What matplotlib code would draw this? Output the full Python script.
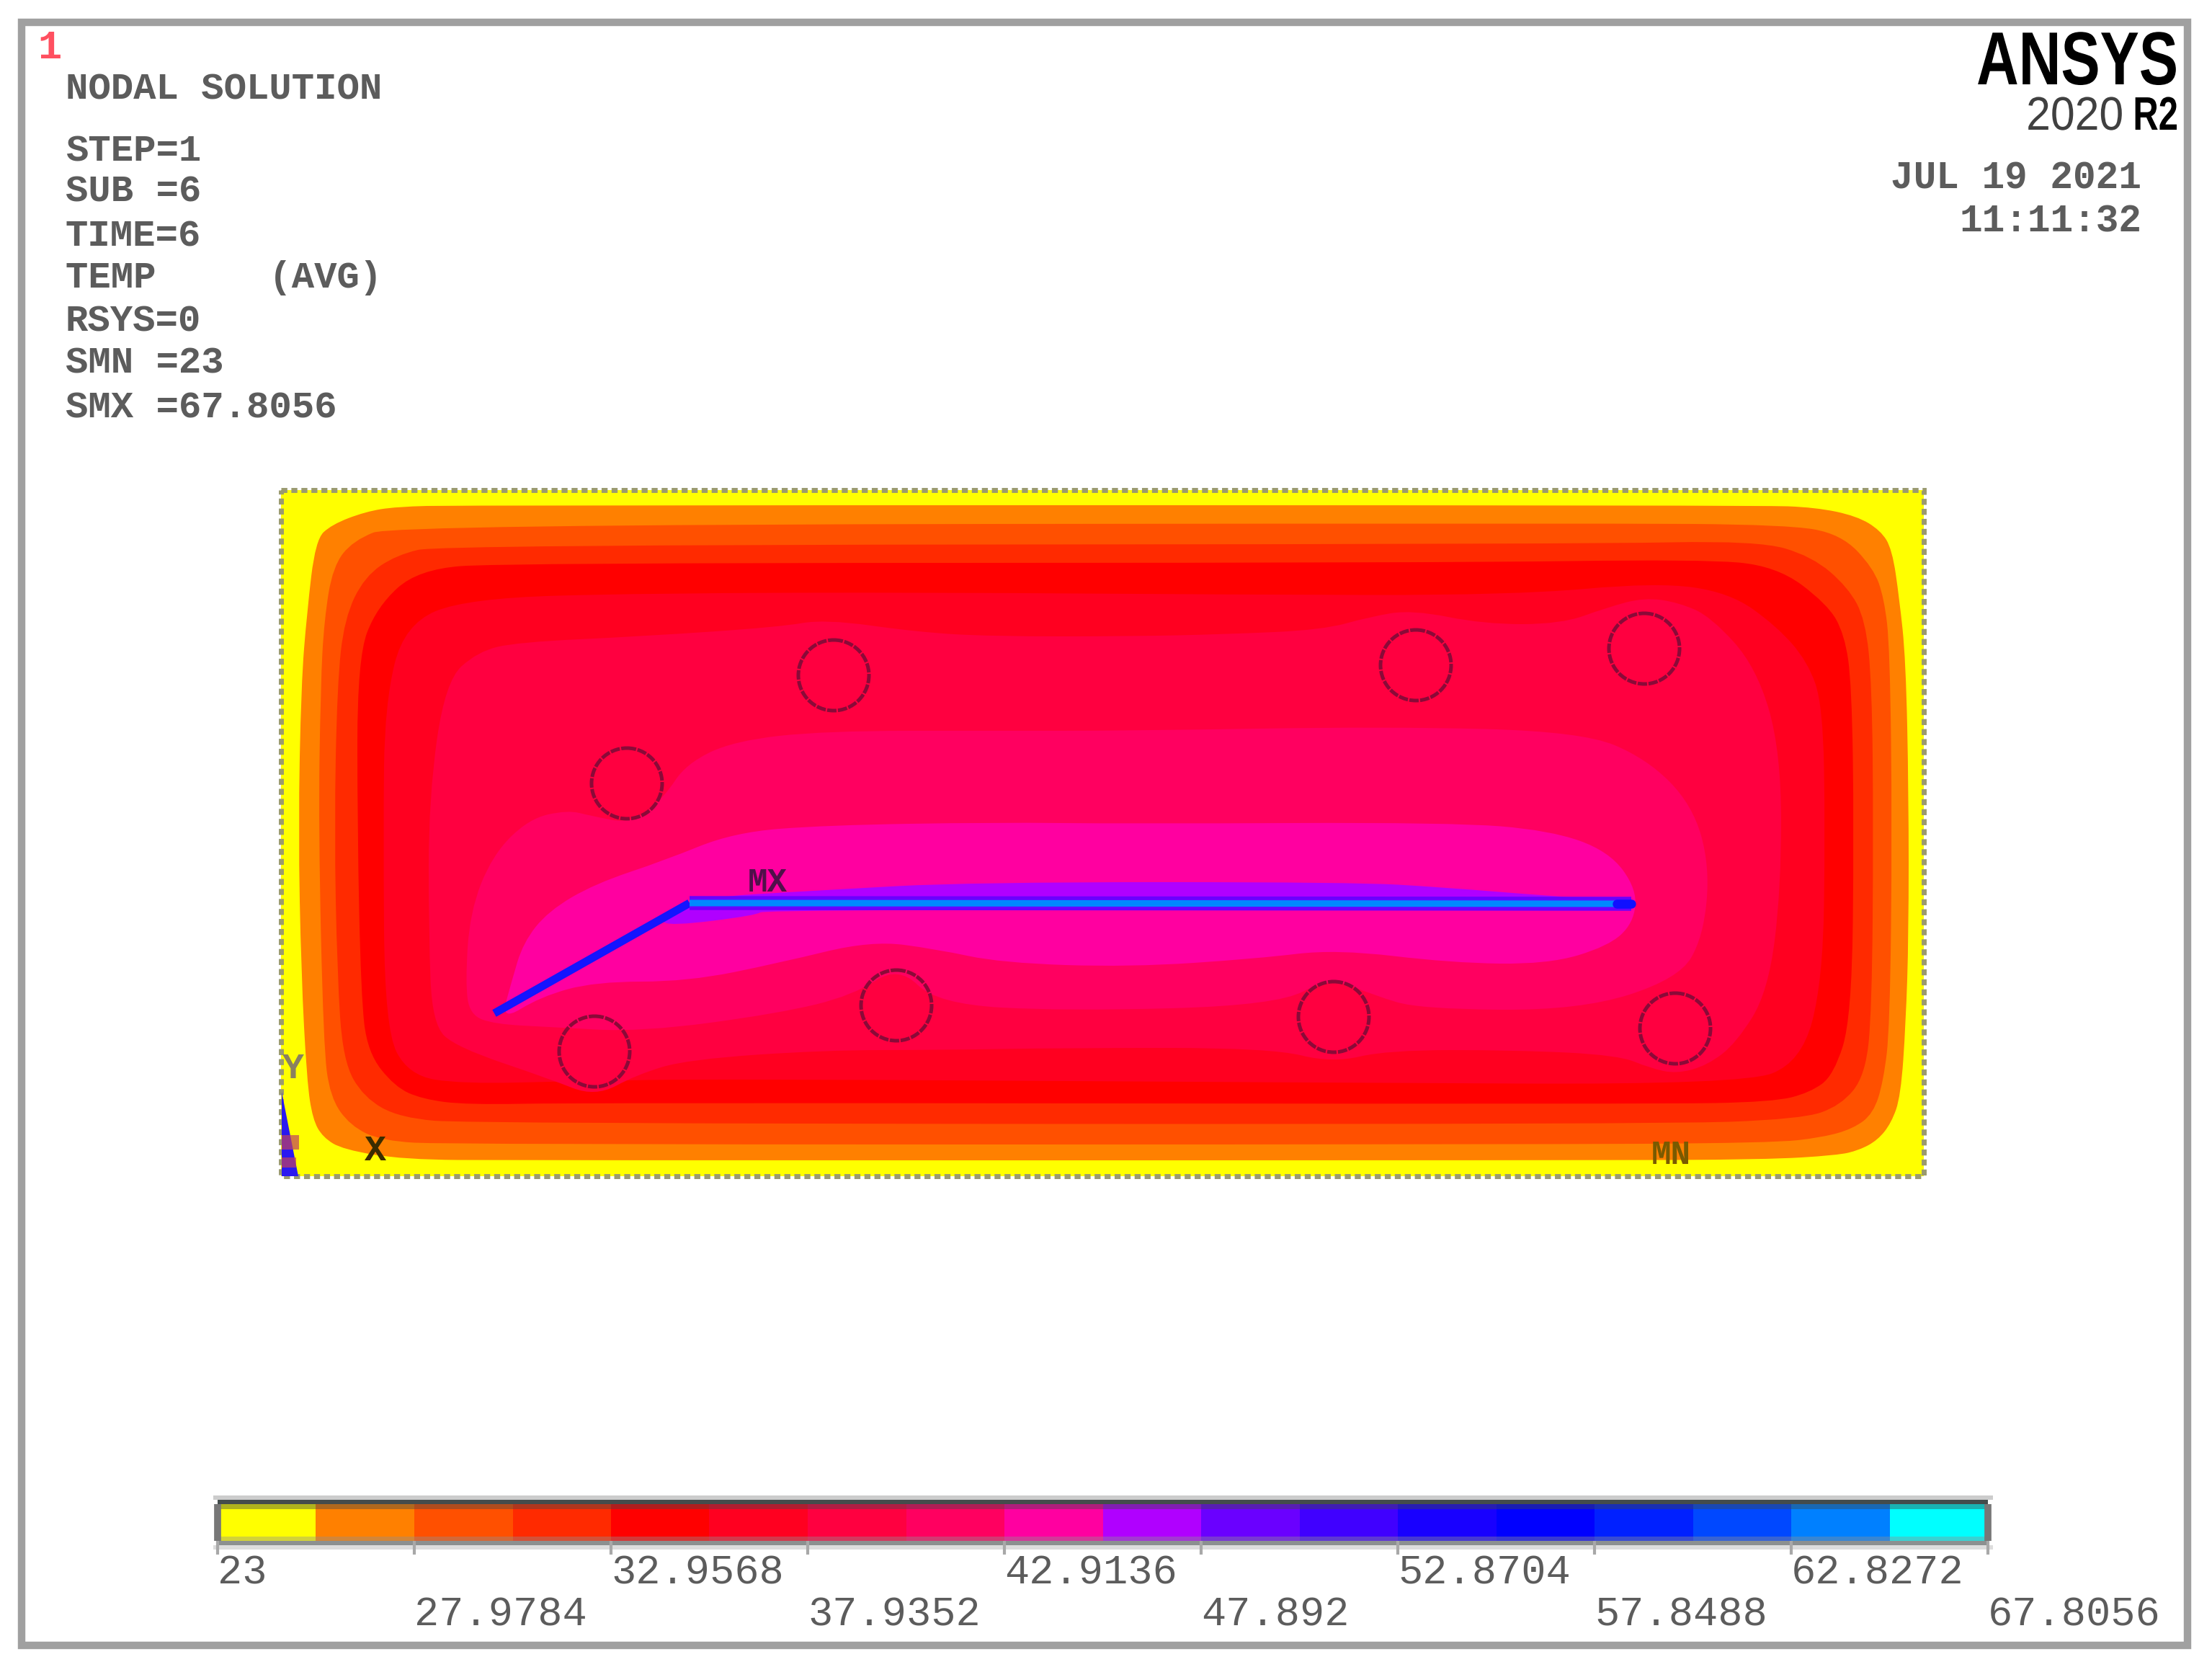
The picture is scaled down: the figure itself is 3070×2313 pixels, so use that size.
import matplotlib
matplotlib.use('Agg')
import numpy as np
import matplotlib.pyplot as plt
import matplotlib.patheffects as pe
from matplotlib.patches import PathPatch, Rectangle, Circle, Polygon
from matplotlib.path import Path
from matplotlib.transforms import Affine2D

# legend of the nodal solution
level_edges = [23, 25.4892, 27.9784, 30.4676, 32.9568, 35.446, 37.9352, 40.4244, 42.9136, 45.4028,
               47.892, 50.3812, 52.8704, 55.3596, 57.8488, 60.338, 62.8272, 65.3164, 67.8056]
band_colors = ['#ffff00', '#ff8000', '#ff5000', '#ff2a00', '#ff0000', '#ff0020', '#ff0040', '#ff0060', '#ff00a0',
               '#b000ff', '#6a00ff', '#4000ff', '#1800ff', '#0000ff', '#0020ff', '#0048ff', '#0080ff', '#00ffff']
tick_values = [23, 27.9784, 32.9568, 37.9352, 42.9136, 47.892, 52.8704, 57.8488, 62.8272, 67.8056]
tick_labels = ['23', '27.9784', '32.9568', '37.9352', '42.9136', '47.892', '52.8704', '57.8488', '62.8272', '67.8056']

# header text
info_lines = ['NODAL SOLUTION', 'STEP=1', 'SUB =6', 'TIME=6', 'TEMP     (AVG)', 'RSYS=0', 'SMN =23', 'SMX =67.8056']
info_base = [137, 223, 280, 341, 399, 460, 517, 579]

# contour outlines, outermost first (in image pixels)
orange_edge = [(635,701),(2443,701),(2520,704),(2577,716),(2610,736),(2626,762),(2636,830),(2645,915),(2649,1100),
               (2649,1298),(2645,1420),(2638,1521),(2625,1558),(2606,1582),(2580,1596),(2550,1603),(2450,1609),
               (2193,1610),(712,1610),(560,1609),(476,1595),(448,1578),(434,1553),(426,1500),(418,1350),(414,1150),
               (418,950),(426,850),(438,749),(460,728),(507,710),(550,703)]
dorange_edge = [(546,728),(2220,726),(2480,728),(2555,741),(2600,788),(2615,830),(2623,900),(2626,1150),(2623,1425),
                (2614,1500),(2600,1545),(2572,1566),(2530,1578),(2461,1586),(2100,1588),(620,1588),(530,1583),
                (486,1562),(458,1522),(449,1450),(442,1150),(445,950),(450,860),(462,786),(490,750)]
redorange_edge = [(610,756),(2200,755),(2440,750),(2515,772),(2565,815),(2589,860),(2598,950),(2600,1150),(2598,1400),
                  (2589,1492),(2555,1534),(2500,1553),(2300,1560),(650,1559),(555,1551),(505,1523),(476,1472),
                  (468,1350),(464,1150),(468,950),(478,858),(506,800),(550,770)]
red_edge = [(699,781),(2000,781),(2360,776),(2465,785),(2536,838),(2560,880),(2570,950),(2573,1150),(2570,1412),
            (2545,1492),(2512,1516),(2461,1529),(2300,1532),(800,1530),(648,1533),(586,1525),(548,1508),(510,1460),
            (501,1380),(496,1150),(496,913),(523,842),(580,790)]
red2_edge = [(648,830),(900,823),(1300,822),(1700,825),(2100,826),(2300,808),(2400,822),(2465,868),(2509,918),
             (2530,979),(2533,1150),(2530,1361),(2500,1474),(2418,1505),(1800,1502),(1000,1497),(800,1500),(640,1504),
             (567,1492),(534,1428),(532,1150),(534,977),(561,866)]
crimson_edge = [(618,945),(663,904),(718,891),(890,883),(1082,870),(1145,859),(1273,877),(1375,883),(1568,883),
                (1702,880),(1836,874),(1900,856),(1960,846),(2059,866),(2166,866),(2230,843),(2282,829),(2330,836),
                (2375,856),(2438,926),(2472,1043),(2472,1234),(2454,1376),(2410,1447),(2370,1478),(2327,1490),
                (2290,1482),(2246,1464),(2104,1457),(1925,1457),(1849,1475),(1764,1454),(1479,1454),(1300,1457),
                (1145,1457),(954,1470),(884,1491),(826,1522),(763,1497),(633,1453),(600,1421),(595,1298),(595,1106)]
pink_edge = [(646,1364),(652,1266),(683,1187),(734,1136),(788,1124),(820,1132),(877,1143),(922,1106),(952,1060),
             (1018,1028),(1145,1014),(1380,1014),(1568,1014),(1925,1008),(2196,1015),(2286,1053),(2349,1117),
             (2373,1202),(2364,1300),(2330,1358),(2193,1402),(1970,1400),(1907,1381),(1845,1356),(1773,1395),
             (1479,1403),(1300,1393),(1247,1340),(1184,1381),(1082,1406),(890,1432),(763,1425),(686,1421),(652,1408)]
magenta_edge = [(710,1362),(726,1308),(761,1264),(826,1226),(922,1194),(1018,1155),(1145,1145),(1380,1141),(1568,1143),
                (2014,1141),(2151,1152),(2233,1181),(2272,1234),(2267,1281),(2232,1313),(2148,1338),(2014,1336),
                (1854,1317),(1746,1330),(1568,1342),(1389,1336),(1300,1317),(1209,1305),(1082,1336),(954,1362),
                (826,1362),(750,1383),(695,1417)]
purple_edge = [(957,1246),(1145,1235),(1345,1224),(1880,1224),(2000,1231),(2148,1243),(2260,1250),(2260,1262),
               (1060,1262),(1050,1270),(930,1285),(915,1275)]
outlines = [orange_edge, dorange_edge, redorange_edge, red_edge, red2_edge, crimson_edge, pink_edge, magenta_edge, purple_edge]

# reinforcement circles
hole_x = [1157, 870, 1244, 825, 1965, 2282, 1851, 2325]
hole_y = [937, 1087, 1395, 1459, 923, 900, 1411, 1427]
# source path
path_x = [686, 957, 2264]
path_y = [1406, 1253, 1254]


def outline_path(outline):
    # quadratic curves through the edge midpoints, so the contours stay round
    pts = np.array(outline, dtype=float)
    mids = (pts + np.roll(pts, -1, axis=0)) / 2
    verts = [mids[-1]]
    codes = [Path.MOVETO]
    for p, m in zip(pts, mids):
        verts += [p, m]
        codes += [Path.CURVE3, Path.CURVE3]
    return Path(verts, codes)


class Squeeze(pe.AbstractPathEffect):
    # horizontal squeeze for the logo text, no condensed face is installed
    def __init__(self, sx, x0):
        self.sx = sx
        self.x0 = x0

    def draw_path(self, renderer, gc, tpath, affine, rgbFace):
        squeeze = Affine2D().translate(-self.x0, 0).scale(self.sx, 1).translate(self.x0, 0)
        renderer.draw_path(gc, tpath, affine + squeeze, rgbFace)


mono = ['Liberation Mono', 'DejaVu Sans Mono']
fig = plt.figure(figsize=(30.7, 23.13), dpi=100, facecolor='white')
ax = fig.add_axes([0, 0, 1, 1])
ax.set_xlim(0, 3070)
ax.set_ylim(2313, 0)
ax.axis('off')

# outer frame
ax.add_patch(Rectangle((30, 31), 3006, 2252, fill=False, ec='#a0a0a0', lw=7.5, joinstyle='miter'))

# plate
ax.add_patch(Rectangle((390, 680), 2280, 952, fc=band_colors[0], ec='none', zorder=1))
for i, outline in enumerate(outlines):
    ax.add_patch(PathPatch(outline_path(outline), fc=band_colors[i + 1], ec='none', zorder=2 + i * 0.01))
ax.add_patch(Rectangle((390, 680), 2280, 952, fill=False, ec='#9a9a70', lw=5, ls=(0, (1.2, 0.8)), zorder=3))

# source path, blue on the slanted leg and layered on the long one
ax.plot(path_x[:2], path_y[:2], color='#1414ff', lw=8, solid_capstyle='butt', zorder=4)
ax.plot(path_x[1:], path_y[1:], color='#6a00ff', lw=14, solid_capstyle='butt', zorder=4)
ax.plot(path_x[1:], path_y[1:], color='#0088ff', lw=6.5, solid_capstyle='butt', zorder=5)
ax.plot([2244, path_x[2]], [path_y[2], path_y[2]], color='#1010ff', lw=9, solid_capstyle='round', zorder=5)

for x, y in zip(hole_x, hole_y):
    ax.add_patch(Circle((x, y), 49, fill=False, ec='#8a0a38', lw=3.6, ls=(0, (2.6, 0.4)), zorder=6))

# triad
ax.add_patch(Polygon([(391, 1515), (414, 1632), (391, 1632)], closed=True, fc='#2a18f0', ec='none', zorder=6))
ax.add_patch(Rectangle((391, 1575), 24, 20, fc='#c04060', ec='none', alpha=0.7, zorder=6))
ax.add_patch(Rectangle((391, 1606), 20, 14, fc='#c04060', ec='none', alpha=0.7, zorder=6))

plate_kw = dict(family=mono, weight='bold', zorder=7, va='center', ha='center')
ax.text(1065, 1225, 'MX', color='#50104a', fontsize=33, **plate_kw)
ax.text(2319, 1603, 'MN', color='#7a5a00', fontsize=33, **plate_kw)
ax.text(521, 1597, 'X', color='#3a2c00', fontsize=36, **plate_kw)
ax.text(407, 1483, 'Y', color='#8a8060', fontsize=36, **plate_kw)

# header
ax.text(52, 81, '1', color='#ff5060', fontsize=40, weight='bold', family=mono, va='baseline', ha='left')
for line, base in zip(info_lines, info_base):
    ax.text(91, base, line, color='#5c5c5c', fontsize=37.7, family=mono, weight='bold', va='baseline', ha='left')

ax.text(3023, 117, 'ANSYS', color='black', fontsize=75, weight='bold', ha='right', va='baseline',
        family='Liberation Sans', path_effects=[Squeeze(0.78, 3023)])
ax.text(2947, 180, '2020', color='#404040', fontsize=47, ha='right', va='baseline', family='Liberation Sans',
        path_effects=[Squeeze(0.93, 2947)])
ax.text(3023, 180, 'R2', color='black', fontsize=47, weight='bold', ha='right', va='baseline',
        family='Liberation Sans', path_effects=[Squeeze(0.75, 3023)])
ax.text(2972, 262, 'JUL 19 2021', color='#5c5c5c', fontsize=38, family=mono, weight='bold', ha='right', va='baseline')
ax.text(2972, 322, '11:11:32', color='#5c5c5c', fontsize=38, family=mono, weight='bold', ha='right', va='baseline')

# legend bar frame
ax.add_patch(Rectangle((296, 2075), 2470, 6, fc='#cccccc', ec='none'))
ax.add_patch(Rectangle((302, 2081), 2457, 6, fc='#444c4c', ec='none'))
ax.add_patch(Rectangle((302, 2138), 2457, 6, fc='#8c9090', ec='none'))
ax.add_patch(Rectangle((296, 2144), 2470, 6, fc='#dddddd', ec='none'))

# legend bar, on its own axes in temperature units
W, H = 3070, 2313
bar = fig.add_axes([302 / W, 1 - 2138 / H, (2759 - 302) / W, (2138 - 2087) / H])
bar.set_xlim(level_edges[0], level_edges[-1])
bar.set_ylim(1, 0)
bar.set_frame_on(False)
bar.yaxis.set_visible(False)
bar.pcolormesh(level_edges, [0, 1], np.arange(18).reshape(1, -1),
               cmap=matplotlib.colors.ListedColormap(band_colors), shading='flat')
bar.axhspan(0, 0.14, color='#404848', alpha=0.42, lw=0)
bar.axhspan(0.875, 1, color='#909090', alpha=0.4, lw=0)
bar.set_xticks(tick_values)
bar.set_xticklabels([])
bar.tick_params(axis='x', length=13.5, width=3, color='#a8a8a8', pad=0, direction='out')
bar.vlines([level_edges[0], level_edges[-1]], 0, 1, color='#777777', lw=7, clip_on=False)

trans = matplotlib.transforms.blended_transform_factory(bar.transData, ax.transData)
for i, (v, lab) in enumerate(zip(tick_values, tick_labels)):
    ax.text(v, 2198 if i % 2 == 0 else 2255, lab, transform=trans, color='#5c5c5c', fontsize=41, family=mono,
            ha='left', va='baseline')

fig.savefig('out.png', dpi=100, facecolor='white')
